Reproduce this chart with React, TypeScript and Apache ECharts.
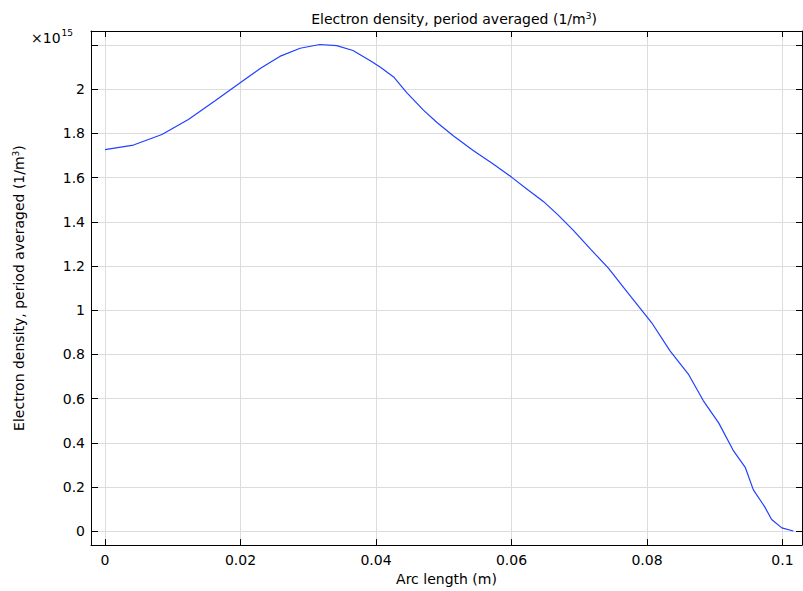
import React, { useEffect, useRef } from "react";
import * as echarts from "echarts";

const arcLength = [0, 0.0042, 0.0084, 0.0123, 0.0162, 0.0199, 0.0229, 0.0258, 0.0288, 0.0317, 0.0342, 0.0366, 0.0391, 0.0406, 0.0426, 0.0445, 0.047, 0.049, 0.0514, 0.0544, 0.0573, 0.06, 0.0624, 0.0647, 0.0669, 0.0691, 0.0717, 0.0743, 0.077, 0.0807, 0.0834, 0.0861, 0.0883, 0.0906, 0.0927, 0.0945, 0.0957, 0.0974, 0.0984, 0.0999, 0.1016];
const density = [1.726, 1.747, 1.795, 1.863, 1.946, 2.028, 2.093, 2.148, 2.185, 2.202, 2.197, 2.175, 2.13, 2.1, 2.055, 1.985, 1.905, 1.849, 1.789, 1.721, 1.661, 1.602, 1.545, 1.492, 1.43, 1.362, 1.275, 1.19, 1.085, 0.943, 0.816, 0.711, 0.591, 0.489, 0.367, 0.289, 0.187, 0.109, 0.053, 0.015, 0.001];
const xLabelValues = [0, 0.02, 0.04, 0.06, 0.08, 0.1];
const yLabelValues = [0, 0.2, 0.4, 0.6, 0.8, 1, 1.2, 1.4, 1.6, 1.8, 2];

const title = "Electron density, period averaged (1/m{sup|3})";
const xName = "Arc length (m)";
const yName = "Electron density, period averaged (1/m{sup|3})";

const FONT = "DejaVu Sans";
const FS = 14;
const X_MIN = -0.00207;
const X_MAX = 0.10288;
const Y_MIN = -0.0629;
const Y_MAX = 2.263;

const near = (v: number, arr: number[]) => arr.some((a) => Math.abs(a - v) < 1e-6);

const supRich = {
  sup: { fontFamily: FONT, fontSize: 9, color: "#000", verticalAlign: "top", padding: [0, 0, 7, 0] },
};

export default function App() {
  const ref = useRef<HTMLDivElement>(null);
  useEffect(() => {
    if (!ref.current) return;
    const chart = echarts.init(ref.current, undefined, { renderer: "svg" });
    const gridLine = { show: true, lineStyle: { color: "#dcdcdc", width: 1 } };
    const axisLine = { show: true, onZero: false, lineStyle: { color: "#000", width: 1 } };
    const tickStyle = { show: true, inside: true, length: 6, lineStyle: { color: "#000", width: 1 } };
    const labelFont = { color: "#000", fontFamily: FONT, fontSize: FS };
    const nameStyle = { color: "#000", fontFamily: FONT, fontSize: FS, rich: supRich };
    chart.setOption({
      animation: false,
      backgroundColor: "#fff",
      title: {
        text: title,
        left: 449,
        textAlign: "center",
        top: 6,
        textStyle: { color: "#000", fontFamily: FONT, fontSize: FS, fontWeight: "normal", rich: supRich },
      },
      grid: { left: 91, right: 1, top: 31, bottom: 42, containLabel: false },
      xAxis: [
        {
          type: "value",
          min: X_MIN,
          max: X_MAX,
          minInterval: 0.02,
          maxInterval: 0.02,
          position: "bottom",
          name: xName,
          nameLocation: "middle",
          nameGap: 23,
          nameTextStyle: nameStyle,
          axisLine,
          axisTick: tickStyle,
          splitLine: gridLine,
          axisLabel: {
            ...labelFont,
            margin: 8,
            showMinLabel: false,
            showMaxLabel: false,
            formatter: (v: number) => (near(v, xLabelValues) ? String(Number(v.toFixed(3))) : ""),
          },
        },
        {
          type: "value",
          min: X_MIN,
          max: X_MAX,
          minInterval: 0.02,
          maxInterval: 0.02,
          position: "top",
          axisLine,
          axisTick: tickStyle,
          splitLine: { show: false },
          axisLabel: { show: false },
        },
      ],
      yAxis: [
        {
          type: "value",
          min: Y_MIN,
          max: Y_MAX,
          minInterval: 0.2,
          maxInterval: 0.2,
          position: "left",
          name: yName,
          nameLocation: "middle",
          nameGap: 64,
          nameTextStyle: nameStyle,
          axisLine,
          axisTick: { ...tickStyle, length: 7 },
          splitLine: gridLine,
          axisLabel: {
            ...labelFont,
            margin: 6,
            showMinLabel: false,
            showMaxLabel: false,
            formatter: (v: number) => (near(v, yLabelValues) ? String(Number(v.toFixed(1))) : ""),
          },
        },
        {
          type: "value",
          min: Y_MIN,
          max: Y_MAX,
          minInterval: 0.2,
          maxInterval: 0.2,
          position: "right",
          axisLine,
          axisTick: tickStyle,
          splitLine: { show: false },
          axisLabel: { show: false },
        },
      ],
      graphic: [
        {
          type: "text",
          left: 31,
          top: 28,
          style: {
            text: "{a|\u00d710}{b|15}",
            rich: {
              a: { fontFamily: FONT, fontSize: FS, fill: "#000", verticalAlign: "bottom", lineHeight: 17 },
              b: { fontFamily: FONT, fontSize: 9, fill: "#000", verticalAlign: "top", lineHeight: 10, padding: [0, 0, 7, 1] },
            },
          },
        },
      ],
      series: [
        {
          type: "line",
          xAxisIndex: 0,
          yAxisIndex: 0,
          data: arcLength.map((x, i) => [x, density[i]]),
          showSymbol: false,
          symbol: "none",
          lineStyle: { color: "#2040ff", width: 1.2 },
        },
      ],
    });
    return () => chart.dispose();
  }, []);
  return (
    <div
      ref={ref}
      style={{ position: "absolute", left: 0, top: 0, width: 803, height: 591 }}
    />
  );
}
